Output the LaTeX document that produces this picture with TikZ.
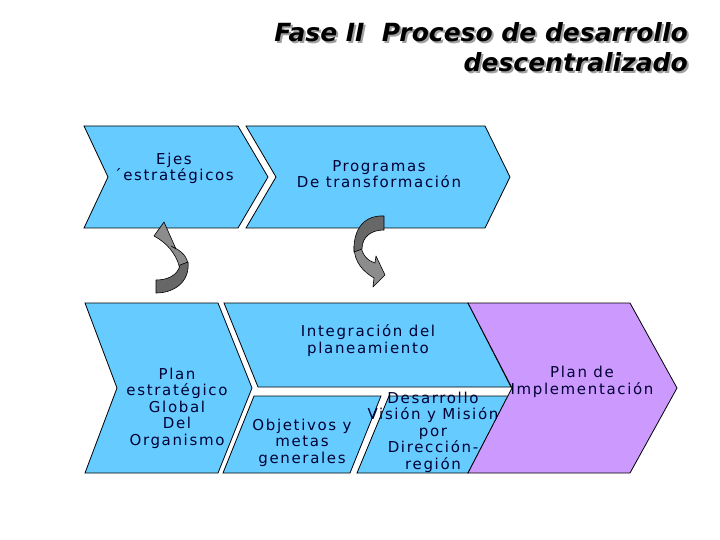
\documentclass[tikz,border=0pt]{standalone}
\usepackage{fontspec}
\setmainfont{DejaVu Sans}
\newfontfamily\labfont[LetterSpace=11]{DejaVu Sans}
\definecolor{chblue}{HTML}{66CCFF}
\definecolor{chpurple}{HTML}{CC99FF}
\definecolor{txt}{HTML}{000033}
\definecolor{arrlight}{HTML}{8C8C8C}
\definecolor{arrdark}{HTML}{676767}
\definecolor{shadowgray}{HTML}{A0A0A0}
\newcommand{\shadowedtext}[1]{\makebox[0pt][l]{\hspace{2pt}\raisebox{-2pt}{\textcolor{shadowgray}{#1}}}#1}
\tikzset{
  piece/.style={draw=black, line width=0.8pt, line join=miter},
  bluepiece/.style={piece, fill=chblue},
  purplepiece/.style={piece, fill=chpurple},
  lab/.style={font=\labfont\fontsize{15}{16.5}\selectfont, text=txt, align=center, anchor=base, inner sep=0pt},
  arrlightpart/.style={draw=black, line width=0.6pt, fill=arrlight, line join=round},
  arrdarkpart/.style={draw=black, line width=0.6pt, fill=arrdark, line join=round},
  titletext/.style={font=\fontsize{25}{30}\selectfont\bfseries\itshape, anchor=base east, inner sep=0pt, text=black},
}
\begin{document}
\begin{tikzpicture}[x=1pt,y=-1pt]
\useasboundingbox (0,0) rectangle (720,540);
\fill[white] (0,0) rectangle (720,540);

% ---- top row chevrons
\path[bluepiece] (84,126) -- (238,126) -- (268,177) -- (238,228) -- (84,228) -- (108,177) -- cycle;
\path[bluepiece] (246,126) -- (485,126) -- (510,177) -- (485,228) -- (246,228) -- (276,177) -- cycle;

% ---- bottom row
\path[bluepiece] (85,303) -- (218,303) -- (252,388) -- (218,473) -- (85,473) -- (117,388) -- cycle;
\path[bluepiece] (224,303) -- (468,303) -- (511,387) -- (258,387) -- cycle;
\path[bluepiece] (254,396) -- (381,396) -- (350,473) -- (223,473) -- cycle;
\path[bluepiece] (389,396) -- (508,396) -- (468,473) -- (357,473) -- cycle;
\path[purplepiece] (468,303) -- (630,303) -- (677,388) -- (630,473) -- (468,473) -- (512,388) -- cycle;

% ---- left curved arrow (points up)
\path[arrlightpart] (159,239) -- (154,236) -- (164,222) -- (176,249) -- (171,246)
   .. controls (182,251) and (188,257) .. (188,266) -- (180,271)
   .. controls (179,259) and (170,246) .. (159,239) -- cycle;
\path[arrdarkpart] (188,262) .. controls (190,282) and (174,293) .. (156,293)
   -- (156,280) .. controls (168,280) and (178,275) .. (180,265) -- cycle;

% ---- right curved arrow (points down)
\path[arrlightpart] (354,246) .. controls (354,263) and (364,272) .. (374,278)
   -- (373,287) -- (385,275) -- (376,256) -- (375,263)
   .. controls (368,261) and (362,255) .. (361,246) -- cycle;
\path[arrdarkpart] (384,216) .. controls (365,215) and (353,228) .. (354,252)
   -- (362,249) .. controls (362,236) and (372,230) .. (384,230) -- cycle;

% ---- labels (anchor = baseline of the last line)
\node[lab] (ejes) at (174,181) {Ejes\\´estratégicos};
\node[lab] (prog) at (379,188) {Programas\\De transformación};
\node[lab] (integ) at (368,353) {Integración del\\planeamiento};
\node[lab] (planest) at (177,445) {Plan\\estratégico\\Global\\Del\\Organismo};
\node[lab] (objet) at (302,463) {Objetivos y\\metas\\generales};
\node[lab] (desar) at (433,469) {Desarrollo\\Visión y Misión\\por\\Dirección-\\región};
\node[lab] (planimp) at (582,394) {Plan de\\Implementación};

% ---- title with shadow
\node[titletext] (t1) at (688,42) {\shadowedtext{Fase II\ \ Proceso de desarrollo}};
\node[titletext] (t2) at (688,72) {\shadowedtext{descentralizado}};
\end{tikzpicture}
\end{document}
